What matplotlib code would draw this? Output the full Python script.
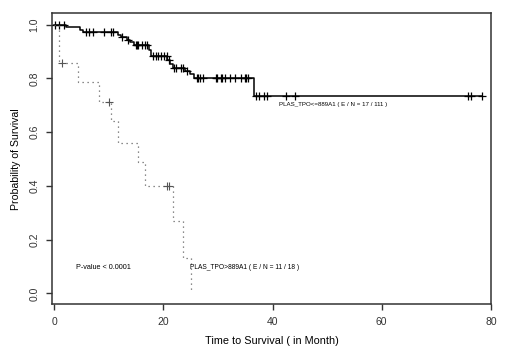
import numpy as np
import matplotlib
matplotlib.use("Agg")
import matplotlib.pyplot as plt

# ---------------------------------------------------------------
# Kaplan-Meier curves (time in months)
# ---------------------------------------------------------------

# group PLAS_TPO<=889A1 (solid)
low_times = [0, 2.1, 4.7, 5.2, 11.7, 12.2, 13.3, 13.8, 14.6, 17.4, 17.8,
             20.7, 21.2, 21.7, 23.9, 24.8, 25.6, 36.6]
low_surv = [1.0, 0.990, 0.980, 0.971, 0.962, 0.953, 0.944, 0.935, 0.925,
            0.905, 0.884, 0.868, 0.852, 0.837, 0.826, 0.815, 0.802, 0.735]
low_end = 78.3
low_censor = [0.1, 0.9, 1.8, 5.9, 6.4, 7.1, 9.1, 10.4, 10.8, 12.4, 13.6,
              15.0, 15.2, 15.4, 16.0, 16.6, 17.0, 18.1, 18.6, 19.0, 19.5,
              20.1, 20.6, 21.0, 21.9, 22.3, 23.3, 23.6, 24.3, 26.1, 26.4,
              26.8, 27.2, 29.6, 29.9, 30.5, 30.8, 31.3, 32.2, 33.1, 34.3,
              34.9, 35.2, 35.5, 36.9, 37.5, 38.4, 39.0, 42.4, 44.1, 75.9,
              76.3, 78.3]

# group PLAS_TPO>889A1 (dotted)
high_times = [0, 0.9, 4.3, 8.2, 10.4, 11.7, 15.4, 16.6, 21.8, 23.6, 25.0]
high_surv = [1.0, 0.857, 0.786, 0.714, 0.643, 0.561, 0.489, 0.40, 0.268,
             0.133, 0.0]
high_end = 25.0
high_censor = [1.4, 10.0, 20.6, 21.0]

label_low = "PLAS_TPO<=889A1 ( E / N = 17 / 111 )"
label_high = "PLAS_TPO>889A1 ( E / N = 11 / 18 )"
pvalue_text = "P-value < 0.0001"


def surv_at(times, surv, t):
    idx = np.searchsorted(times, t, side="right") - 1
    return np.asarray(surv)[idx]


def km_xy(times, surv, t_end):
    x = list(times) + [t_end]
    y = list(surv) + [surv[-1]]
    return x, y


plt.rcParams["font.family"] = ["Liberation Sans", "DejaVu Sans"]

fig = plt.figure(figsize=(5.2, 3.52), dpi=100)
ax = fig.add_axes([0.1, 0.136, 0.844, 0.826])

x, y = km_xy(low_times, low_surv, low_end)
ax.step(x, y, where="post", color="black", lw=1.1)
ax.plot(low_censor, surv_at(low_times, low_surv, low_censor), "+",
        color="black", ms=6, mew=0.9)

x, y = km_xy(high_times, high_surv, high_end)
ax.step(x, y, where="post", color="#666666", lw=0.9, ls=(0, (1, 3)))
ax.plot(high_censor, surv_at(high_times, high_surv, high_censor), "+",
        color="#555555", ms=6, mew=0.8)

ax.text(41.2, 0.704, label_low, fontsize=4.4, va="center", ha="left")
ax.text(24.9, 0.097, label_high, fontsize=4.8, va="center", ha="left")
ax.text(4.0, 0.097, pvalue_text, fontsize=5.2, va="center", ha="left")

ax.set_xlim(-0.4, 80)
ax.set_ylim(-0.04, 1.042)
ax.set_xticks([0, 20, 40, 60, 80])
ax.set_yticks([0.0, 0.2, 0.4, 0.6, 0.8, 1.0])
ax.set_yticklabels(["0.0", "0.2", "0.4", "0.6", "0.8", "1.0"], rotation=90,
                   va="center")
ax.tick_params(direction="out", length=4, width=1, labelsize=7.5,
               colors="#333333", pad=5)

for s in ax.spines.values():
    s.set_linewidth(1.1)
    s.set_color("#333333")

ax.set_xlabel("Time to Survival ( in Month)", fontsize=7.8, labelpad=7)
ax.set_ylabel("Probability of Survival", fontsize=7.6, labelpad=6)

fig.savefig("out.png", dpi=100)
